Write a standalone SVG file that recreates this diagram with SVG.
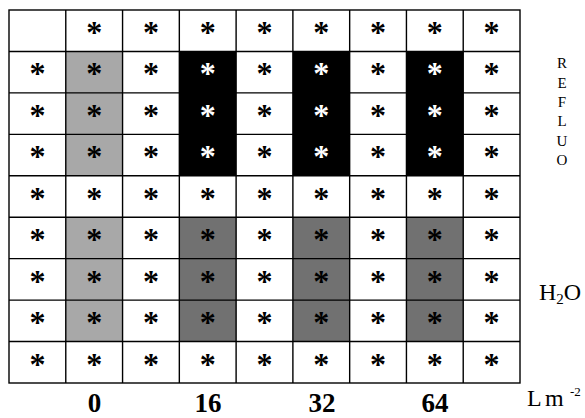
<svg xmlns="http://www.w3.org/2000/svg" width="585" height="418" viewBox="0 0 585 418">
<style>
.l{fill:#a8a8a8}
.d{fill:#717171}
.k{fill:#000}
.a{font-family:"Liberation Serif",serif;font-weight:bold;font-size:32px;text-anchor:middle;fill:#000}
.w{fill:#fff}
.t{font-family:"Liberation Serif",serif;fill:#000}
.n{font-family:"Liberation Serif",serif;font-weight:bold;font-size:27px;text-anchor:middle;fill:#000}
</style>
<rect width="585" height="418" fill="#fff"/>
<g id="fills">
<rect class="l" x="65.78" y="51.44" width="56.78" height="124.34"/>
<rect class="l" x="65.78" y="217.22" width="56.78" height="124.34"/>
<rect class="k" x="179.33" y="51.44" width="56.78" height="124.34"/>
<rect class="k" x="292.89" y="51.44" width="56.78" height="124.34"/>
<rect class="k" x="406.44" y="51.44" width="56.78" height="124.34"/>
<rect class="d" x="179.33" y="217.22" width="56.78" height="124.34"/>
<rect class="d" x="292.89" y="217.22" width="56.78" height="124.34"/>
<rect class="d" x="406.44" y="217.22" width="56.78" height="124.34"/>
</g>
<g id="grid" stroke="#000" stroke-width="1.4" fill="none">
<rect x="9" y="10" width="511" height="373"/>
<path d="M65.78 10V383M122.56 10V383M179.33 10V383M236.11 10V383M292.89 10V383M349.67 10V383M406.44 10V383M463.22 10V383"/>
<path d="M9 51.44H520M9 92.89H520M9 134.33H520M9 175.78H520M9 217.22H520M9 258.67H520M9 300.11H520M9 341.56H520"/>
</g>
<g id="row0" class="a">
<text x="94.17" y="43">*</text><text x="150.94" y="43">*</text><text x="207.72" y="43">*</text><text x="264.5" y="43">*</text><text x="321.28" y="43">*</text><text x="378.06" y="43">*</text><text x="434.83" y="43">*</text><text x="491.61" y="43">*</text>
</g>
<g id="row1" class="a">
<text x="37.39" y="84.44">*</text><text x="94.17" y="84.44">*</text><text x="150.94" y="84.44">*</text><text class="w" x="207.72" y="84.44">*</text><text x="264.5" y="84.44">*</text><text class="w" x="321.28" y="84.44">*</text><text x="378.06" y="84.44">*</text><text class="w" x="434.83" y="84.44">*</text><text x="491.61" y="84.44">*</text>
</g>
<g id="row2" class="a">
<text x="37.39" y="125.89">*</text><text x="94.17" y="125.89">*</text><text x="150.94" y="125.89">*</text><text class="w" x="207.72" y="125.89">*</text><text x="264.5" y="125.89">*</text><text class="w" x="321.28" y="125.89">*</text><text x="378.06" y="125.89">*</text><text class="w" x="434.83" y="125.89">*</text><text x="491.61" y="125.89">*</text>
</g>
<g id="row3" class="a">
<text x="37.39" y="167.33">*</text><text x="94.17" y="167.33">*</text><text x="150.94" y="167.33">*</text><text class="w" x="207.72" y="167.33">*</text><text x="264.5" y="167.33">*</text><text class="w" x="321.28" y="167.33">*</text><text x="378.06" y="167.33">*</text><text class="w" x="434.83" y="167.33">*</text><text x="491.61" y="167.33">*</text>
</g>
<g id="row4" class="a">
<text x="37.39" y="208.78">*</text><text x="94.17" y="208.78">*</text><text x="150.94" y="208.78">*</text><text x="207.72" y="208.78">*</text><text x="264.5" y="208.78">*</text><text x="321.28" y="208.78">*</text><text x="378.06" y="208.78">*</text><text x="434.83" y="208.78">*</text><text x="491.61" y="208.78">*</text>
</g>
<g id="row5" class="a">
<text x="37.39" y="250.22">*</text><text x="94.17" y="250.22">*</text><text x="150.94" y="250.22">*</text><text x="207.72" y="250.22">*</text><text x="264.5" y="250.22">*</text><text x="321.28" y="250.22">*</text><text x="378.06" y="250.22">*</text><text x="434.83" y="250.22">*</text><text x="491.61" y="250.22">*</text>
</g>
<g id="row6" class="a">
<text x="37.39" y="291.67">*</text><text x="94.17" y="291.67">*</text><text x="150.94" y="291.67">*</text><text x="207.72" y="291.67">*</text><text x="264.5" y="291.67">*</text><text x="321.28" y="291.67">*</text><text x="378.06" y="291.67">*</text><text x="434.83" y="291.67">*</text><text x="491.61" y="291.67">*</text>
</g>
<g id="row7" class="a">
<text x="37.39" y="333.11">*</text><text x="94.17" y="333.11">*</text><text x="150.94" y="333.11">*</text><text x="207.72" y="333.11">*</text><text x="264.5" y="333.11">*</text><text x="321.28" y="333.11">*</text><text x="378.06" y="333.11">*</text><text x="434.83" y="333.11">*</text><text x="491.61" y="333.11">*</text>
</g>
<g id="row8" class="a">
<text x="37.39" y="374.56">*</text><text x="94.17" y="374.56">*</text><text x="150.94" y="374.56">*</text><text x="207.72" y="374.56">*</text><text x="264.5" y="374.56">*</text><text x="321.28" y="374.56">*</text><text x="378.06" y="374.56">*</text><text x="434.83" y="374.56">*</text><text x="491.61" y="374.56">*</text>
</g>
<g id="xlabels" class="n">
<text x="94.5" y="412">0</text><text x="208" y="412">16</text><text x="322" y="412">32</text><text x="435" y="412">64</text>
</g>
<g id="reflux" class="t" font-size="15" text-anchor="middle">
<text x="562" y="68">R</text><text x="562" y="88">E</text><text x="562" y="107">F</text><text x="562" y="126">L</text><text x="562" y="146">U</text><text x="562" y="165">O</text>
</g>
<g id="h2o" class="t" font-size="24">
<text x="539" y="300">H<tspan font-size="15" dy="4">2</tspan><tspan dy="-4">O</tspan></text>
</g>
<g id="unit" class="t" font-size="24">
<text x="527" y="406">L<tspan x="545">m</tspan><tspan x="570" font-size="13" dy="-10">-2</tspan></text>
</g>
</svg>
